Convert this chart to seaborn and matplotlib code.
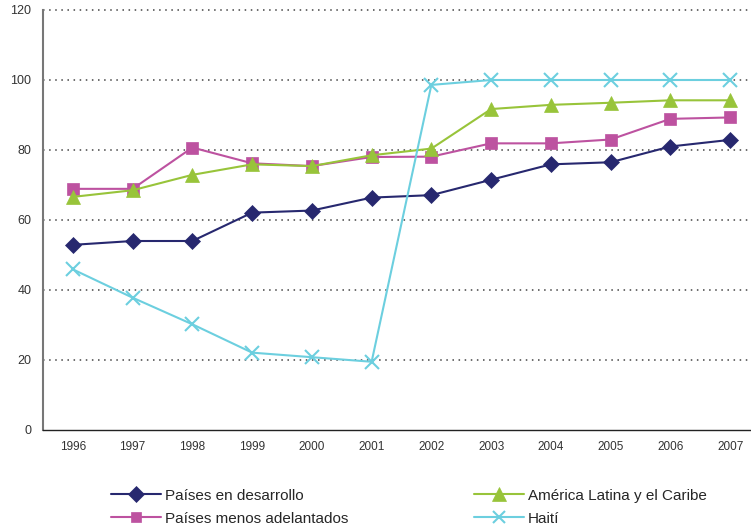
import numpy as np
import pandas as pd
import seaborn as sns
import matplotlib.pyplot as plt
from matplotlib.ticker import FixedLocator

years = ["1996", "1997", "1998", "1999", "2000", "2001",
         "2002", "2003", "2004", "2005", "2006", "2007"]
desarrollo = [52.9, 54.0, 54.0, 62.1, 62.7, 66.4, 67.1, 71.5, 75.9, 76.5, 81.0, 82.9]
menos_adelantados = [68.9, 68.9, 80.7, 76.2, 75.4, 78.0, 78.1, 81.9, 81.9, 83.0, 88.9, 89.3]
america_latina = [66.6, 68.5, 72.9, 75.9, 75.4, 78.5, 80.4, 91.7, 92.9, 93.5, 94.2, 94.2]
haiti = [45.9, 37.8, 30.2, 22.1, 20.8, 19.5, 98.6, 100, 100, 100, 100, 100]

series = {
    "Países en desarrollo": (desarrollo, "#27286f", "D", 8.5),
    "Países menos adelantados": (menos_adelantados, "#bd52a0", "s", 8.5),
    "América Latina y el Caribe": (america_latina, "#98c43a", "^", 10.5),
    "Haití": (haiti, "#6ccfdf", "x", 10),
}

sns.set_style("white")
plt.rcParams["font.family"] = ["Liberation Sans", "DejaVu Sans"]

fig = plt.figure(figsize=(7.51, 5.31), dpi=100)
ax = fig.add_axes([43 / 751, 101 / 531, 717 / 751, 420 / 531])

x = np.arange(len(years))
for name, (vals, color, marker, ms) in series.items():
    df = pd.DataFrame({"x": x, "y": vals})
    sns.lineplot(data=df, x="x", y="y", ax=ax, color=color, marker=marker,
                 markersize=ms, linewidth=1.5, markeredgecolor=color,
                 markeredgewidth=1.5 if marker == "x" else 0.5, label=name)

ax.set_xlim(-0.5, len(years) - 0.5)
ax.set_ylim(0, 120)
ax.set_yticks(range(0, 121, 20))
ax.set_xticks(x)
ax.set_xticklabels(years)
ax.xaxis.set_minor_locator(FixedLocator(np.arange(0.5, len(years) - 0.5, 1)))
ax.tick_params(axis="x", which="major", length=0, pad=8, labelsize=8.5, colors="#333333")
ax.tick_params(axis="x", which="minor", length=5, width=1, color="#333333", direction="out")
ax.tick_params(axis="y", length=5, width=1, color="#555555", direction="out", labelsize=9,
               labelcolor="#333333")
ax.set_xlabel("")
ax.set_ylabel("")

# dotted gridlines (not at 0)
for v in range(20, 121, 20):
    ax.axhline(v, color="#444444", linestyle=(0, (1, 3)), linewidth=1.1, zorder=0,
               clip_on=False)

sns.despine(ax=ax, top=True, right=True)
ax.spines["left"].set_color("#777777")
ax.spines["left"].set_linewidth(1.5)
ax.spines["bottom"].set_color("#222222")
ax.spines["bottom"].set_linewidth(1)

handles, labels = ax.get_legend_handles_labels()
ax.get_legend().remove()
fig.legend(handles, labels, ncol=2, loc="lower left", bbox_to_anchor=(97 / 751, -0.016),
           frameon=False, fontsize=11, handlelength=3.3, columnspacing=8.2,
           labelspacing=0.6, handletextpad=0.25, markerscale=0.9)

fig.savefig("out.png", dpi=100)
